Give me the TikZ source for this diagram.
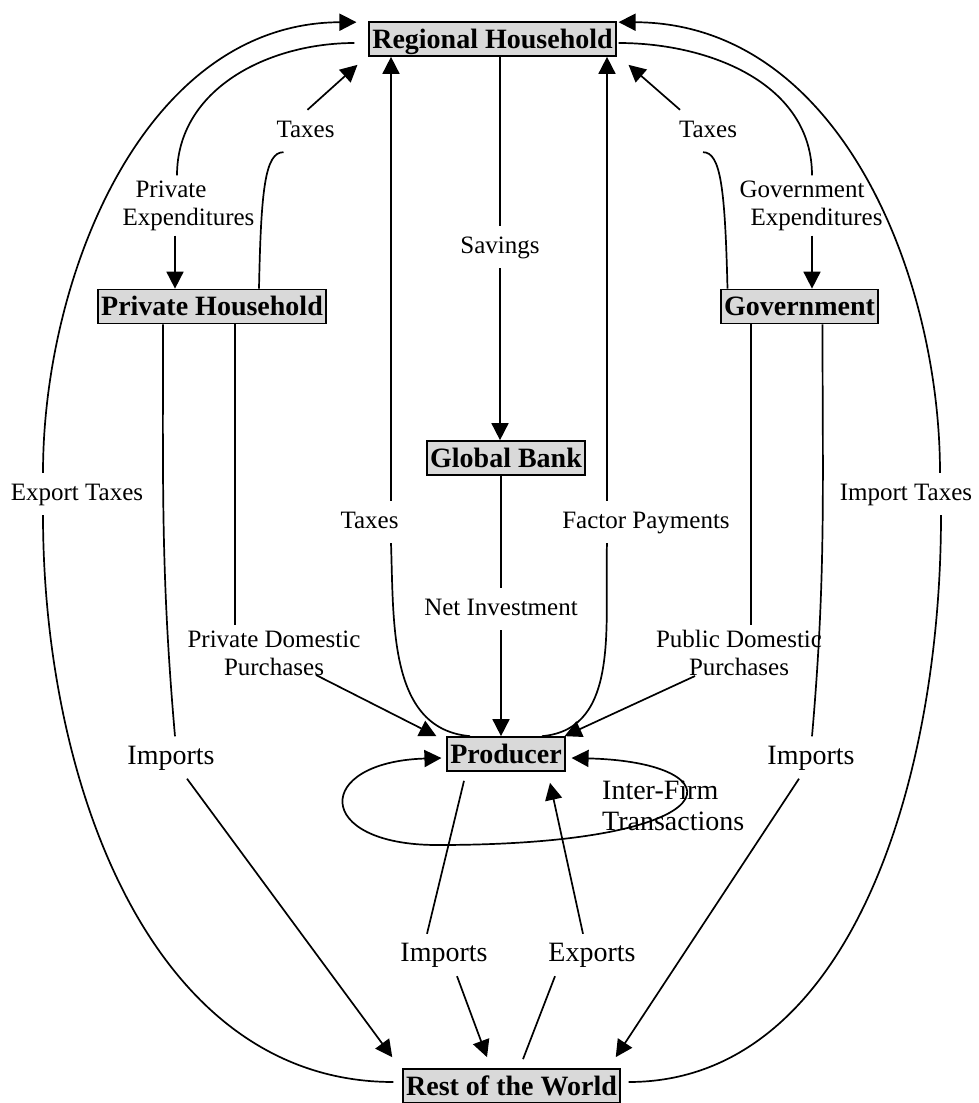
\documentclass[tikz,border=0pt]{standalone}
\usepackage{fontspec}
\setmainfont{Liberation Serif}
\usetikzlibrary{arrows.meta}

\begin{document}
\begin{tikzpicture}[x=1pt,y=-1pt,
  >={Triangle[length=17pt,width=17pt]},
  flow/.style={line width=1.7pt},
  acct/.style={draw,fill=black!15,line width=1.7pt,inner xsep=3pt,inner ysep=1pt,text height=25pt,text depth=7pt,font=\fontsize{28}{30}\selectfont\bfseries},
  lbl/.style={font=\fontsize{25}{28}\selectfont,text height=17pt,text depth=5pt,inner xsep=2pt,inner ysep=10pt},
  lbltwo/.style={font=\fontsize{25}{28}\selectfont,align=center,inner xsep=2pt,inner ysep=5pt},
  big/.style={font=\fontsize{28}{31}\selectfont,text height=19pt,text depth=6pt,inner xsep=2pt,inner ysep=8.5pt},
  bigtwo/.style={font=\fontsize{28}{31}\selectfont,align=left,inner sep=1pt}]
\fill[white] (0,0) rectangle (979,1103);
\useasboundingbox (0,0) rectangle (979,1103);

\node[acct] (RH) at (492.5,39) {Regional Household};
\node[acct] (PH) at (212,306.5) {Private Household};
\node[acct] (Gov) at (799.5,306.5) {Government};
\node[acct] (GB) at (506,458) {Global Bank};
\node[acct] (Prod) at (506,754) {Producer};
\node[acct] (ROW) at (511.5,1086) {Rest of the World};

\node[lbltwo] (pexp) at (188.5,205.5) {Private\hspace*{35pt}\\Expenditures};
\node[lbltwo] (gexp) at (816.5,205.5) {Government\hspace*{29pt}\\Expenditures};
\node[lbl] (ptax) at (305.5,131) {Taxes};
\node[lbl] (gtax) at (708,131) {Taxes};
\node[lbl] (sav) at (500,247) {Savings};
\node[lbl] (ctax) at (369.5,522) {Taxes};
\node[lbl] (fpay) at (646,522) {Factor Payments};
\node[lbl] (netinv) at (501,609) {Net Investment};
\node[lbltwo] (pdp) at (274,653) {Private Domestic\\Purchases};
\node[lbltwo] (gdp) at (739,653) {Public Domestic\\Purchases};
\node[lbl] (extax) at (77,494) {Export Taxes};
\node[lbl] (imtax) at (906,494) {Import Taxes};
\node[big] (pimp) at (171,757.5) {Imports};
\node[big] (gimp) at (811,757.5) {Imports};
\node[big] (cimp) at (444,955) {Imports};
\node[big] (expo) at (592,955) {Exports};
\node[bigtwo,anchor=north west] (ift) at (601,780) {Inter-Firm\\Transactions};
\coordinate (loopb) at (437,845);

\draw[flow] ([xshift=-14pt,yshift=-4pt]RH.west) to[out=180,in=90] ([xshift=-11.5pt]pexp.north);
\draw[flow,->] ([xshift=-13.5pt]pexp.south) -- ([xshift=-37pt]PH.north);
\draw[flow] ([xshift=2pt,yshift=-4pt]RH.east) to[out=0,in=90] ([xshift=-4.5pt]gexp.north);
\draw[flow,->] ([xshift=-4.5pt]gexp.south) -- ([xshift=12.5pt]Gov.north);

\draw[flow] ([xshift=47pt]PH.north) .. controls (261,190) and (265,152) .. ([xshift=-22pt]ptax.south);
\draw[flow,->] ([xshift=2pt]ptax.north) -- ([xshift=-11pt,yshift=-8pt]RH.south west);
\draw[flow] ([xshift=-72pt]Gov.north) .. controls (725,190) and (721,152) .. ([xshift=-5pt]gtax.south);
\draw[flow,->] ([xshift=-28pt]gtax.north) -- ([xshift=12pt,yshift=-8pt]RH.south east);

\draw[flow] (sav.north |- RH.south) -- (sav.north);
\draw[flow,->] (sav.south) -- (sav.south |- GB.north);
\draw[flow] (netinv.north |- GB.south) -- (netinv.north);
\draw[flow,->] (netinv.south) -- (netinv.south |- Prod.north);

\draw[flow,->] ([xshift=21.5pt]ctax.north) -- ([xshift=-101.5pt]RH.south);
\draw[flow] ([xshift=-36pt]Prod.north) to[out=175,in=-88] ([xshift=21.5pt]ctax.south);
\draw[flow,->] ([xshift=-39pt]fpay.north) -- ([xshift=114.5pt]RH.south);
\draw[flow] ([xshift=36pt]Prod.north) to[out=5,in=-92] ([xshift=-39pt]fpay.south);

\draw[flow] ([xshift=23pt]PH.south) -- ([xshift=-39pt]pdp.north);
\draw[flow,->] ([xshift=42pt,yshift=-22pt]pdp.center) -- ([xshift=-10pt]Prod.north west);
\draw[flow] ([xshift=-48.5pt]Gov.south) -- ([xshift=12pt]gdp.north);
\draw[flow,->] ([xshift=-44pt,yshift=-23pt]gdp.center) -- ([xshift=-1pt]Prod.north east);

\draw[flow] ([xshift=-49pt]PH.south) to[out=-90,in=95] ([xshift=4pt]pimp.north);
\draw[flow,->] ([xshift=16pt]pimp.south) -- ([xshift=-10pt,yshift=11pt]ROW.north west);
\draw[flow] ([xshift=23pt]Gov.south) to[out=-90,in=85] ([xshift=1pt]gimp.north);
\draw[flow,->] ([xshift=-12pt]gimp.south) -- ([xshift=-5pt,yshift=11pt]ROW.north east);

\draw[flow] ([xshift=-42pt,yshift=-9pt]Prod.south) -- ([xshift=-17pt]cimp.north);
\draw[flow,->] ([xshift=13pt]cimp.south) -- ([xshift=-24.5pt,yshift=11pt]ROW.north);
\draw[flow] ([xshift=11.5pt,yshift=9pt]ROW.north) -- ([xshift=-37pt]expo.south);
\draw[flow,->] ([xshift=-9pt]expo.north) -- ([xshift=44pt,yshift=-11pt]Prod.south);

\draw[flow,->] (loopb) .. controls (313,845) and (313,762) .. ([xshift=-5pt,yshift=-4pt]Prod.west);
\draw[flow,->] (loopb) .. controls (739,845) and (739,762) .. ([xshift=6pt,yshift=-4pt]Prod.east);

\draw[flow] ([xshift=-9pt,yshift=4pt]ROW.west) .. controls (150,1082) and (43,780) .. ([xshift=-34pt]extax.south);
\draw[flow,->] ([xshift=-34pt]extax.north) .. controls (43,277) and (144,23) .. ([xshift=-12pt,yshift=-1pt]RH.north west);
\draw[flow] ([xshift=8pt,yshift=4pt]ROW.east) .. controls (850,1082) and (941,780) .. ([xshift=35pt]imtax.south);
\draw[flow,->] ([xshift=34pt]imtax.north) .. controls (940,277) and (840,23) .. ([xshift=2pt,yshift=-1pt]RH.north east);

\end{tikzpicture}
\end{document}
